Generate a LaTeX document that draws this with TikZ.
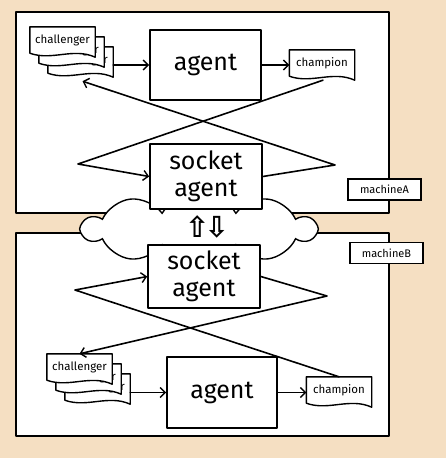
\documentclass[tikz,border=0pt]{standalone}
\usepackage{fontspec}
\setmainfont{Fira Sans}
\newfontfamily\symfont{DejaVu Sans}
\usetikzlibrary{shapes.symbols,arrows.meta,calc}
\definecolor{bgtan}{RGB}{245,223,194}
\tikzset{
  ink/.style={line width=1.6pt, line join=round, line cap=round},
  machine/.style={ink, draw, fill=white, inner sep=0pt},
  agentbox/.style={ink, draw, fill=white, inner sep=0pt, align=center, font=\fontsize{25}{27}\selectfont},
  docbody/.style={inner sep=0pt, minimum width=65pt, minimum height=26pt},
  doctext/.style={inner sep=0pt, font=\fontsize{11.5}{12}\selectfont},
  docline/.style={line width=1.4pt, line join=round, draw, fill=white},
  arr/.style={ink, -{Straight Barb[length=5pt,width=10pt,line width=1.4pt]}},
  tagbox/.style={draw, fill=white, line width=1.4pt, minimum width=73pt, minimum height=21pt, inner sep=0pt, font=\fontsize{11}{12}\selectfont},
  netcloud/.style={cloud, cloud puffs=10, cloud puff arc=120, aspect=3.2, draw, fill=white, line width=1.4pt, inner sep=0pt, minimum width=233pt, minimum height=74pt},
}
\newcommand\wavydoc[1]{%
  \filldraw[docline] (#1.north west) -- (#1.north east) -- ($(#1.south east)+(0,4)$)
    .. controls ($(#1.south east)+(-22,-6)$) and ($(#1.south west)+(22,8)$) .. (#1.south west) -- cycle;}
\newcommand\mycard[4]{%
  \node[docbody] (#1) at (#2,#3) {};
  \wavydoc{#1}
  \node[doctext] (#1t) at (#1) {#4};}
\begin{document}
\begin{tikzpicture}[x=1pt,y=-1pt]
\fill[bgtan] (0,0) rectangle (446,458);
\useasboundingbox (0,0) rectangle (446,458);

% machines
\node[machine, minimum width=373pt, minimum height=201pt] (mA) at (202.5,112.5) {};
\node[machine, minimum width=373pt, minimum height=203pt] (mB) at (202.5,334.5) {};
\node[netcloud] (net) at (199,229) {};
\node[inner sep=0pt, font=\symfont\bfseries\fontsize{29}{29}\selectfont] (ud) at (207,227) {⇧\kern-5pt⇩};

\node[tagbox] (labA) at (384.5,189.5) {machineA};
\node[tagbox] (labB) at (386.5,253) {machineB};

% top machine
\node[agentbox, minimum width=111pt, minimum height=70pt] (agentA) at (205.5,65) {agent};
\node[agentbox, minimum width=112pt, minimum height=65pt] (sockA) at (206,176.5) {socket\\agent};
\mycard{chA3}{80.5}{60}{challenger}
\mycard{chA2}{71.5}{50}{challenger}
\mycard{chA1}{62.5}{40}{challenger}
\mycard{champA}{322}{63}{champion}

% bottom machine
\node[agentbox, minimum width=112pt, minimum height=63pt] (sockB) at (204,276.5) {socket\\agent};
\node[agentbox, minimum width=110pt, minimum height=71pt] (agentB) at (222,392.5) {agent};
\mycard{chB3}{97.5}{387}{challenger}
\mycard{chB2}{88.5}{377}{challenger}
\mycard{chB1}{79.5}{367}{challenger}
\mycard{champB}{339}{390}{champion}

% corner points
\coordinate (kA1) at (78,164);
\coordinate (kA2) at (335,165);
\coordinate (kB1) at (327,296);
\coordinate (kB2) at (75,290);

% connectors top
\draw[arr] (agentA.west -| chA3.east) -- (agentA.west);
\draw[arr] (agentA.east) -- (agentA.east -| champA.west);
\draw[arr] ($(champA.south)+(1,4)$) -- (kA1) -- (sockA.west);
\draw[arr] (sockA.east) -- (kA2) -- ($(chA3.south)+(2,8)$);

% connectors bottom
\draw[arr] (agentB.west -| chB3.east) -- (agentB.west);
\draw[arr] (agentB.east) -- (agentB.east -| champB.west);
\draw[arr] (sockB.east) -- (kB1) -- (chB1.north);
\draw[arr] (champB.north) -- (kB2) -- (sockB.west);
\end{tikzpicture}
\end{document}
